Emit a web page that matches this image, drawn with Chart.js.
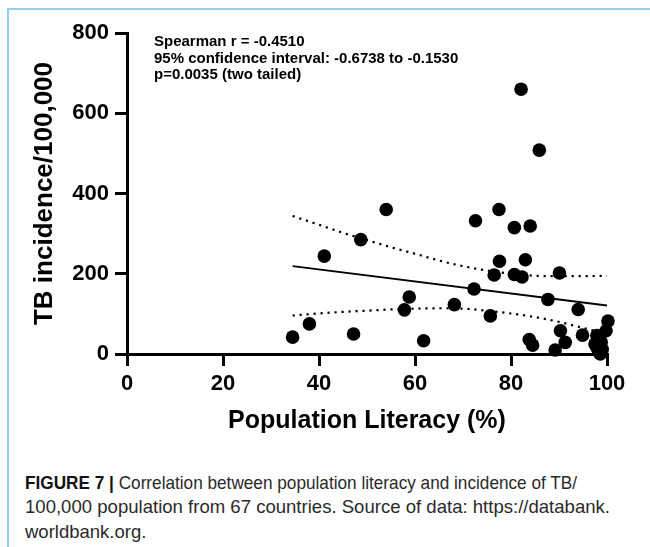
<!DOCTYPE html>
<html>
<head>
<meta charset="utf-8">
<script src="https://cdn.jsdelivr.net/npm/chart.js@4.4.1/dist/chart.umd.min.js"></script>
<style>
  html, body { margin: 0; padding: 0; background: #fff; }
  #page { position: relative; width: 650px; height: 547px; overflow: hidden; }
  #frame { position: absolute; left: 7px; top: 8px; width: 700px; height: 600px;
           border-left: 2px solid #95cdef; border-top: 2px solid #95cdef; }
  #plot { position: absolute; left: 0; top: 0; }
  .cap { position: absolute; left: 25px; font-family: "Liberation Sans", Arial, sans-serif;
         font-weight: 400; font-size: 18.5px; line-height: 18px; color: #2a2a2a;
         white-space: nowrap; transform-origin: 0 0; }
  .cap b { font-weight: 700; color: #111; }
</style>
</head>
<body>
<div id="page">
  <div id="frame"></div>
  <canvas id="plot" width="650" height="436"></canvas>
  <div class="cap" id="cap1" data-w="552" style="top:474px"><b>FIGURE 7</b> <b>|</b> Correlation between population literacy and incidence of TB/</div>
  <div class="cap" id="cap2" data-w="585" style="top:498px">100,000 population from 67 countries. Source of data: https://databank.</div>
  <div class="cap" id="cap3" style="top:523px">worldbank.org.</div>
</div>
<script>
// literacy (%) vs TB incidence per 100,000, one entry per country
const literacy = [34.5, 38.0, 41.1, 47.2, 48.7, 54.0, 57.8, 58.8, 61.8, 68.2,
                  72.3, 72.6, 75.7, 76.5, 77.5, 77.6, 80.7, 80.7, 82.1, 82.3,
                  83.0, 84.0, 83.8, 84.5, 85.9, 87.7, 89.2, 90.1, 90.3, 91.3,
                  94.0, 94.9, 97.9, 97.9, 98.6, 99.8, 100.2, 97.5, 98.2, 99.0, 98.8];
const tbIncidence = [42, 75, 244, 50, 285, 360, 110, 142, 33, 123,
                     162, 332, 95, 197, 360, 231, 198, 315, 660, 192,
                     235, 319, 36, 22, 508, 136, 10, 202, 58, 29,
                     111, 47, 46, 17, 0, 58, 82, 25, 8, 12, 30];

// fitted line and its 95% band
const fitX = [34.5, 100];
const fitY = [219, 121];
const bandX = [34.5, 40, 45, 50, 55, 60, 65, 70, 75, 80, 85, 90, 95, 100];
const bandUpper = [344, 322, 302, 284, 266, 250, 233, 219, 208, 200, 195, 194, 194, 195];
const bandLower = [96, 101, 105, 108, 111, 113, 114, 113, 108, 101, 92, 80, 65, 50];

const xTicks = [0, 20, 40, 60, 80, 100];
const yTicks = [0, 200, 400, 600, 800];

const statLines = [
  "Spearman r = -0.4510",
  "95% confidence interval: -0.6738 to -0.1530",
  "p=0.0035 (two tailed)"
];

const FONT = "'Liberation Sans', Arial, sans-serif";

const toXY = (xs, ys) => xs.map((x, i) => ({ x: x, y: ys[i] }));

// stats block in the upper left of the plot
const statsText = {
  id: "statsText",
  afterDraw(chart) {
    const ctx = chart.ctx;
    ctx.save();
    ctx.fillStyle = "#000";
    ctx.font = "bold 15px " + FONT;
    ctx.textBaseline = "alphabetic";
    statLines.forEach((t, i) => ctx.fillText(t, 154, 46 + i * 16.7));
    ctx.restore();
  }
};

function axisGrid() {
  return { drawOnChartArea: false, drawTicks: true, tickLength: 12, tickWidth: 3,
           tickColor: "#000", color: "#000", lineWidth: 3 };
}

new Chart(document.getElementById("plot"), {
  type: "scatter",
  data: {
    datasets: [
      {
        data: toXY(literacy, tbIncidence),
        backgroundColor: "#000",
        borderWidth: 0,
        pointRadius: 6.8,
        pointHoverRadius: 6.8,
        clip: false
      },
      {
        data: toXY(fitX, fitY),
        showLine: true,
        borderColor: "#000",
        borderWidth: 2,
        pointRadius: 0
      },
      {
        data: toXY(bandX, bandUpper),
        showLine: true,
        borderColor: "#000",
        borderWidth: 2.2,
        borderDash: [2.2, 4.8],
        cubicInterpolationMode: "monotone",
        pointRadius: 0
      },
      {
        data: toXY(bandX, bandLower),
        showLine: true,
        borderColor: "#000",
        borderWidth: 2.2,
        borderDash: [2.2, 4.8],
        cubicInterpolationMode: "monotone",
        pointRadius: 0
      }
    ]
  },
  options: {
    responsive: false,
    animation: false,
    devicePixelRatio: 1,
    layout: { padding: { left: 29, top: 33, right: 43, bottom: 0 } },
    plugins: { legend: { display: false }, tooltip: { enabled: false } },
    scales: {
      x: {
        type: "linear",
        min: 0,
        max: 100,
        afterBuildTicks: s => { s.ticks = xTicks.map(v => ({ value: v })); },
        afterFit: s => { s.height = 82; },
        ticks: { color: "#000", padding: 5, maxRotation: 0,
                 font: { family: FONT, size: 22, weight: "bold" } },
        grid: axisGrid(),
        border: { display: true, color: "#000", width: 3 },
        title: { display: true, text: "Population Literacy (%)", color: "#000", padding: 0,
                 font: { family: FONT, size: 25, weight: "bold" } }
      },
      y: {
        type: "linear",
        min: 0,
        max: 800,
        afterBuildTicks: s => { s.ticks = yTicks.map(v => ({ value: v })); },
        afterFit: s => { s.width = 98; },
        ticks: { color: "#000", padding: 6,
                 font: { family: FONT, size: 22, weight: "bold" } },
        grid: axisGrid(),
        border: { display: true, color: "#000", width: 3 },
        title: { display: true, text: "TB incidence/100,000", color: "#000", padding: 0,
                 font: { family: FONT, size: 26, weight: "bold" } }
      }
    }
  },
  plugins: [statsText]
});

// squeeze/stretch the justified caption lines to their set widths
document.fonts.ready.then(() => {
  document.querySelectorAll(".cap[data-w]").forEach(el => {
    const w = el.getBoundingClientRect().width;
    el.style.transform = "scaleX(" + (parseFloat(el.dataset.w) / w) + ")";
  });
});
</script>
</body>
</html>
